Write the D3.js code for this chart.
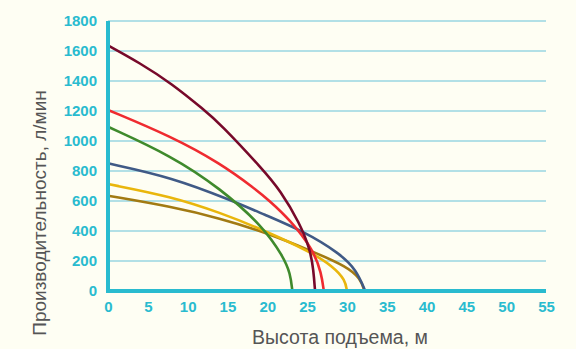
<!DOCTYPE html>
<html>
<head>
<meta charset="utf-8">
<script src="https://cdn.jsdelivr.net/npm/d3@7"></script>
<style>
  html, body { margin: 0; padding: 0; background: #fefef3; }
  svg { display: block; }
</style>
</head>
<body>
<svg id="chart"></svg>
<script>
// head (m) vs flow (l/min)
const xTicks = [0, 5, 10, 15, 20, 25, 30, 35, 40, 45, 50, 55]
const yTicks = [0, 200, 400, 600, 800, 1000, 1200, 1400, 1600, 1800]

const maroon = [[0, 1637], [4, 1520], [8, 1383], [12, 1210], [14.1, 1115], [19.5, 807], [21.6, 673],
    [24.1, 451], [25.4, 273], [25.8, 140], [26.0, 0]]
const red = [[0, 1207], [8, 1029], [14.1, 851], [18.5, 680], [20.1, 610], [22.9, 473], [25.8, 273],
    [26.8, 118], [27.1, 0]]
const green = [[0, 1095], [8, 900], [14.1, 684], [19.5, 429], [22.0, 229], [22.9, 118], [23.15, 0]]
const blue = [[0, 851], [8, 758], [15.7, 600], [19.5, 512], [24.5, 400], [29.1, 251], [31.2, 140], [32.3, 0]]
const yellow = [[0, 713], [8, 629], [14.1, 522], [19.5, 407], [25.4, 262], [28.3, 162], [29.8, 73], [30.0, 0]]
const gold = [[0, 635], [8, 562], [14.1, 484], [19.5, 396], [25.8, 262], [30.0, 162], [31.7, 84], [32.2, 0]]

const series = [
    {name: 'gold', data: gold, color: '#a27a12'},
    {name: 'yellow', data: yellow, color: '#e9b60c'},
    {name: 'blue', data: blue, color: '#405a86'},
    {name: 'green', data: green, color: '#3f8a2c'},
    {name: 'red', data: red, color: '#ef2b30'},
    {name: 'maroon', data: maroon, color: '#77092a'}
]

const W = 576, H = 349
const margin = {top: 21, right: 30, bottom: 58, left: 108}

const svg = d3.select('#chart')
    .attr('width', W)
    .attr('height', H)

svg.append('rect')
    .attr('width', W).attr('height', H)
    .attr('fill', '#fefef3')

const x = d3.scaleLinear()
    .domain([0, 55])
    .range([margin.left, W - margin.right])

const y = d3.scaleLinear()
    .domain([0, 1800])
    .range([H - margin.bottom, margin.top])

const teal = '#29bbcf'
const font = '"Liberation Sans", Arial, sans-serif'

// grid
svg.append('g')
    .selectAll('line')
    .data(yTicks.slice(1))
    .join('line')
        .attr('x1', x(0))
        .attr('x2', x(55))
        .attr('y1', d => y(d))
        .attr('y2', d => y(d))
        .attr('stroke', '#98d6e2')
        .attr('stroke-width', 1.5)

// curves
const line = d3.line()
    .x(d => x(d[0]))
    .y(d => y(d[1]))
    .curve(d3.curveBasis)

svg.append('g')
    .selectAll('path')
    .data(series)
    .join('path')
        .attr('fill', 'none')
        .attr('stroke', d => d.color)
        .attr('stroke-width', 2.6)
        .attr('d', d => line(d.data))

// axes
const xAxis = svg.append('g')
    .attr('transform', `translate(0, ${y(0)})`)
    .call(d3.axisBottom(x).tickValues(xTicks).tickFormat(d3.format('d')).tickSize(0).tickPadding(10))
xAxis.select('.domain').attr('stroke', teal).attr('stroke-width', 4)
    .attr('d', `M${x(0) - 2},0H${x(55)}`)

const yAxis = svg.append('g')
    .attr('transform', `translate(${x(0)}, 0)`)
    .call(d3.axisLeft(y).tickValues(yTicks).tickFormat(d3.format('d')).tickSize(0).tickPadding(11))
yAxis.select('.domain').attr('stroke', teal).attr('stroke-width', 4)
    .attr('d', `M0,${y(1800)}V${y(0) + 2}`)

svg.selectAll('.tick text')
    .attr('fill', teal)
    .style('font-family', font)
    .style('font-size', '15px')
    .style('font-weight', 'bold')

// titles
svg.append('text')
    .attr('x', 340)
    .attr('y', 344)
    .attr('text-anchor', 'middle')
    .attr('fill', '#555')
    .style('font-family', font)
    .style('font-size', '19.5px')
    .text('Высота подъема, м')

svg.append('text')
    .attr('transform', 'translate(46, 213) rotate(-90)')
    .attr('text-anchor', 'middle')
    .attr('fill', '#555')
    .style('font-family', font)
    .style('font-size', '19px')
    .text('Производительность, л/мин')
</script>
</body>
</html>
